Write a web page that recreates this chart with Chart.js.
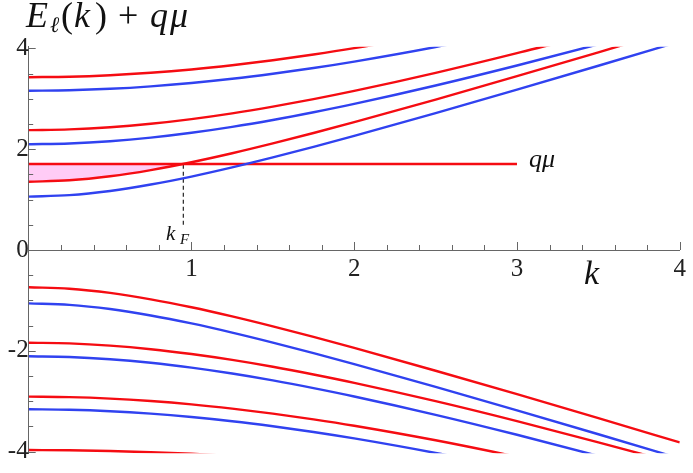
<!DOCTYPE html>
<html><head><meta charset="utf-8">
<script src="https://cdn.jsdelivr.net/npm/chart.js@4.4.1/dist/chart.umd.min.js"></script>
<style>html,body{margin:0;padding:0;background:#fff}#wrap{width:693px;height:473px;position:relative}</style>
</head><body><div id="wrap"><canvas id="c"></canvas></div>
<script>
// momentum grid (k)
const kGrid = [0, 0.25, 0.5, 0.75, 1, 1.25, 1.5, 1.75, 2, 2.5, 3, 3.5, 4];

// positive-energy branches
const blueUp1 = [1.060, 1.089, 1.172, 1.299, 1.457, 1.639, 1.837, 2.046, 2.264, 2.716, 3.182, 3.657, 4.138];
const redUp1  = [1.355, 1.383, 1.463, 1.586, 1.742, 1.920, 2.115, 2.322, 2.538, 2.986, 3.450, 3.924, 4.404];
const blueUp2 = [2.100, 2.115, 2.159, 2.230, 2.326, 2.444, 2.581, 2.734, 2.900, 3.265, 3.662, 4.082, 4.518];
const redUp2  = [2.379, 2.394, 2.436, 2.505, 2.598, 2.712, 2.846, 2.995, 3.158, 3.517, 3.908, 4.323, 4.864];
const blueUp3 = [3.160, 3.170, 3.199, 3.248, 3.315, 3.398, 3.498, 3.612, 3.740, 4.029, 4.357, 4.716, 5.098];
const redUp3  = [3.430, 3.439, 3.469, 3.517, 3.583, 3.667, 3.766, 3.879, 4.006, 4.295, 4.622, 4.979, 5.360];

// negative-energy branches
const redDn1  = [-0.740, -0.769, -0.852, -0.979, -1.137, -1.319, -1.517, -1.726, -1.944, -2.396, -2.862, -3.337, -3.818];
const blueDn1 = [-1.060, -1.089, -1.172, -1.299, -1.457, -1.639, -1.837, -2.046, -2.264, -2.716, -3.182, -3.657, -4.138];
const redDn2  = [-1.840, -1.854, -1.898, -1.969, -2.065, -2.182, -2.318, -2.471, -2.637, -3.001, -3.397, -3.817, -4.252];
const blueDn2 = [-2.110, -2.124, -2.168, -2.239, -2.335, -2.452, -2.588, -2.741, -2.907, -3.271, -3.667, -4.087, -4.522];
const redDn3  = [-2.910, -2.920, -2.949, -2.998, -3.064, -3.148, -3.247, -3.361, -3.488, -3.777, -4.105, -4.462, -4.844];
const blueDn3 = [-3.160, -3.170, -3.199, -3.248, -3.315, -3.398, -3.498, -3.612, -3.740, -4.029, -4.357, -4.716, -5.098];
const redDn4  = [-3.970, -3.975, -3.990, -4.015, -4.045, -4.090, -4.150];

// chemical potential line and Fermi momentum
const qMu = 1.706;
const qMuLineK = [0, 3];
const kF = 0.95;
const kFDashE = [0.5, 1.706];
// filled Fermi sea region (red branch below q*mu)
const fillK = [0, 0.25, 0.5, 0.75, 0.95];
const fillE = [1.355, 1.383, 1.463, 1.586, 1.706];

// tick labels
const xMajorTicks = [1, 2, 3, 4];
const yMajorTicks = [-4, -2, 0, 2, 4];

const RED = 'rgb(245,12,18)';
const BLUE = 'rgb(48,66,240)';
const PINK = 'rgb(255,204,246)';
const AXIS = '#666';
const SERIF = '"Liberation Serif", "Times New Roman", serif';

function pts(xs, ys) { const o = []; for (let i = 0; i < ys.length && i < xs.length; i++) o.push({x: xs[i], y: ys[i]}); return o; }
function curve(ys, color) {
  return {data: pts(kGrid, ys), borderColor: color, borderWidth: 2.4, pointRadius: 0, fill: false,
          cubicInterpolationMode: 'monotone', clip: 0};
}

const datasets = [
  curve(blueUp1, BLUE), curve(redUp1, RED), curve(blueUp2, BLUE), curve(redUp2, RED),
  curve(blueUp3, BLUE), curve(redUp3, RED),
  curve(redDn1, RED), curve(blueDn1, BLUE), curve(redDn2, RED), curve(blueDn2, BLUE),
  curve(redDn3, RED), curve(blueDn3, BLUE), curve(redDn4, RED),
  {data: pts(qMuLineK, [qMu, qMu]), borderColor: RED, borderWidth: 2.4, pointRadius: 0, fill: false, clip: 0},
  {data: pts([kF, kF], kFDashE), borderColor: '#222', borderWidth: 1.2, borderDash: [4, 3], pointRadius: 0, fill: false, clip: 0},
  {data: pts(fillK, fillE), borderWidth: 0, borderColor: 'rgba(0,0,0,0)', backgroundColor: PINK, pointRadius: 0,
   fill: {value: qMu}, cubicInterpolationMode: 'monotone', order: 10, clip: 0}
];

const xMinor = []; for (let i = 1; i <= 20; i++) xMinor.push(i / 5);
const yMinor = []; for (let i = -8; i <= 8; i++) if (i !== 0) yMinor.push(i / 2);

const decor = {
  id: 'decor',
  afterDraw(chart) {
    const {ctx, scales: {x, y}} = chart;
    const x0 = x.getPixelForValue(0), y0 = y.getPixelForValue(0);
    ctx.save();
    ctx.strokeStyle = AXIS; ctx.lineWidth = 1;
    ctx.beginPath();
    xMinor.forEach(v => {
      const major = Math.abs(v - Math.round(v)) < 1e-6;
      const px = Math.round(x.getPixelForValue(v)) + 0.5;
      ctx.moveTo(px, y0); ctx.lineTo(px, y0 - (major ? 8 : 5));
    });
    yMinor.forEach(v => {
      const major = Math.abs(v / 2 - Math.round(v / 2)) < 1e-6;
      const py = Math.round(y.getPixelForValue(v)) + 0.5;
      ctx.moveTo(x0, py); ctx.lineTo(x0 + (major ? 7 : 4.5), py);
    });
    ctx.stroke();

    ctx.fillStyle = '#111';
    ctx.textBaseline = 'alphabetic';
    ctx.textAlign = 'left';
    const I = s => 'italic ' + s + 'px ' + SERIF;
    const R = s => s + 'px ' + SERIF;
    // title E_l(k) + q mu
    const by = 27, fs = 36;
    ctx.font = I(fs); ctx.fillText('E', 26, by);
    ctx.font = I(22); ctx.fillText('ℓ', 50, by + 5);
    ctx.font = R(fs); ctx.fillText('(', 61, by);
    ctx.font = I(fs); ctx.fillText('k', 74, by);
    ctx.font = R(fs); ctx.fillText(')', 95, by);
    ctx.font = R(fs); ctx.fillText('+', 118, by);
    ctx.font = I(fs); ctx.fillText('q', 150, by);
    ctx.font = I(fs); ctx.fillText('μ', 170, by);

    // k axis label
    ctx.font = I(34);
    ctx.fillText('k', 584, 284);
    // k_F label
    ctx.font = I(21);
    ctx.fillText('k', 166, 240);
    ctx.font = I(15);
    ctx.fillText('F', 180, 244);
    // q mu label
    ctx.font = I(26);
    ctx.fillText('qμ', 529, 167);
    ctx.restore();
  }
};

new Chart(document.getElementById('c'), {
  type: 'line',
  data: {datasets},
  options: {
    responsive: true, maintainAspectRatio: false, animation: false,
    layout: {padding: {left: 28.7, right: 7.3, top: 46.7, bottom: 19.7}},
    plugins: {legend: {display: false}, tooltip: {enabled: false}},
    elements: {line: {tension: 0}},
    scales: {
      x: {
        type: 'linear', min: 0, max: 4, position: {y: 0},
        afterBuildTicks: s => { s.ticks = xMajorTicks.map(v => ({value: v})); },
        ticks: {autoSkip: false, maxRotation: 0, padding: 7, color: '#222',
                font: {family: SERIF, size: 25, lineHeight: 1},
                callback: v => String(v)},
        grid: {display: true, drawOnChartArea: false, drawTicks: false},
        border: {display: true, color: AXIS, width: 1}
      },
      y: {
        type: 'linear', min: -4.035, max: 4.035, position: {x: 0},
        afterBuildTicks: s => { s.ticks = yMajorTicks.map(v => ({value: v})); },
        ticks: {autoSkip: false, padding: 6, color: '#222',
                font: {family: SERIF, size: 25, lineHeight: 1},
                callback: v => String(v)},
        grid: {display: true, drawOnChartArea: false, drawTicks: false},
        border: {display: true, color: AXIS, width: 1}
      }
    }
  },
  plugins: [decor]
});
</script>
</body></html>
